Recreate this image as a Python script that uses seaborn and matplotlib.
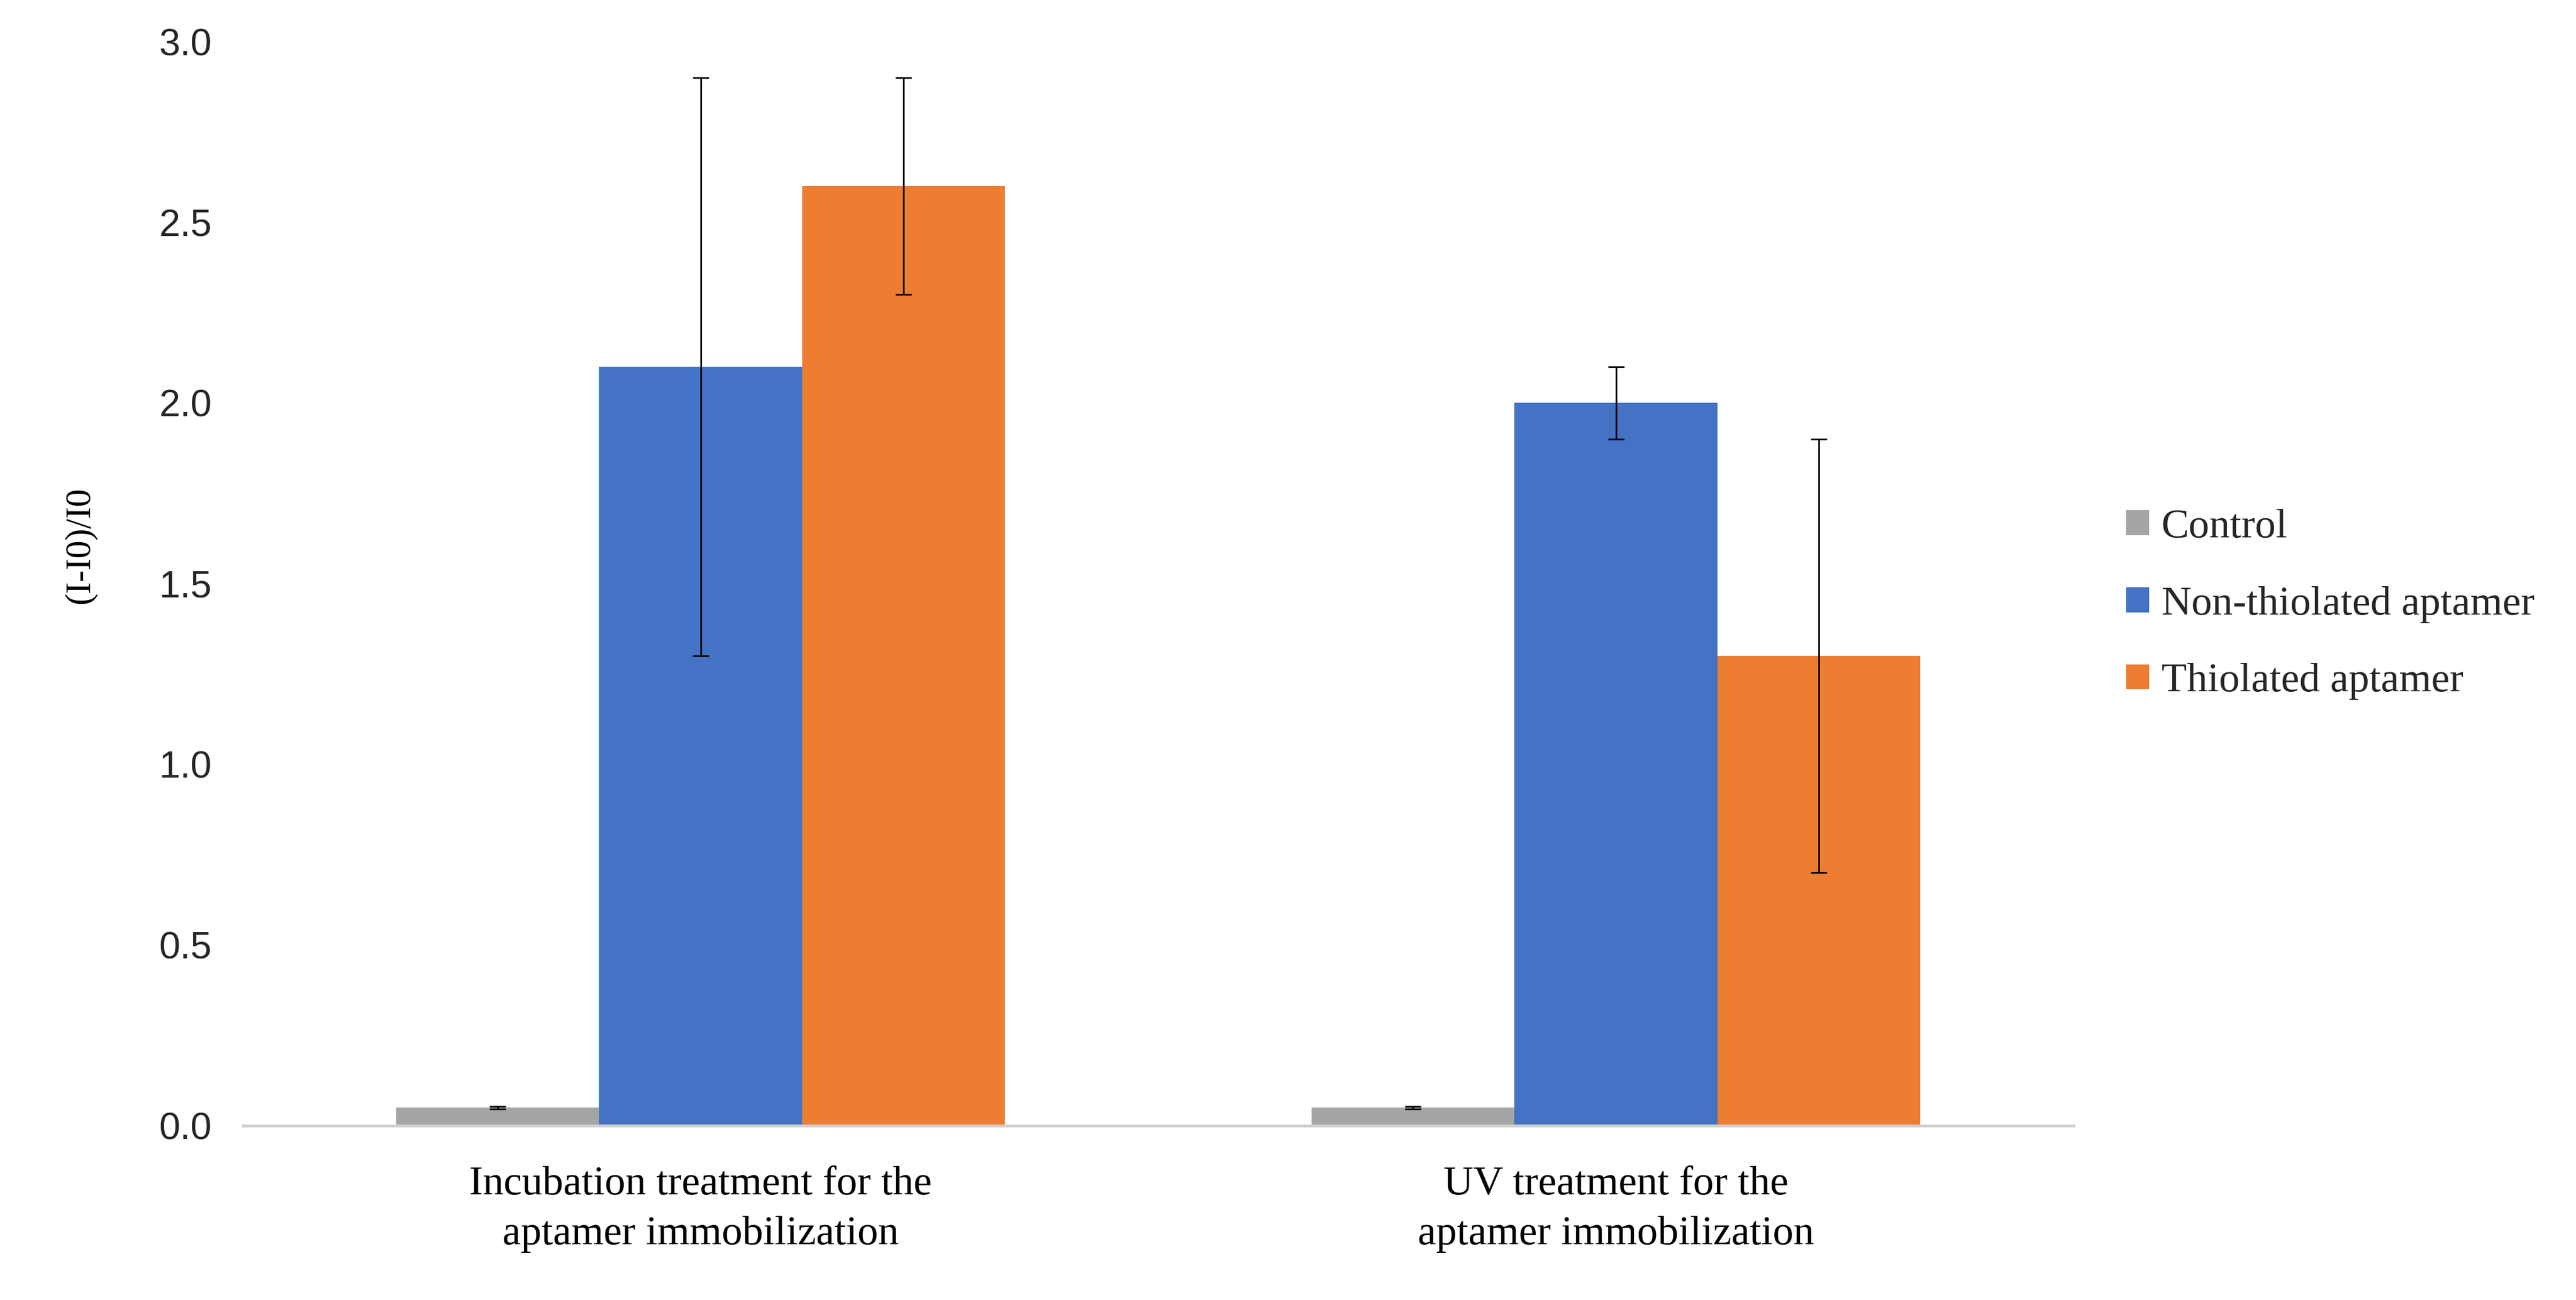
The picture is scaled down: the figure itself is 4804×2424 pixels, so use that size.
import pandas as pd
import matplotlib.pyplot as plt
import seaborn as sns

# --- data ---
treatments = ["Incubation treatment for the\naptamer immobilization",
              "UV treatment for the\naptamer immobilization"]
groups = ["Control", "Non-thiolated aptamer", "Thiolated aptamer"]
control = [0.05, 0.05]
non_thiolated = [2.1, 2.0]
thiolated = [2.6, 1.3]
control_err = [0.003, 0.003]
non_thiolated_err = [0.8, 0.1]
thiolated_err = [0.3, 0.6]

colors = ["#A5A5A5", "#4472C4", "#ED7D31"]

df = pd.DataFrame({
    "treatment": treatments * 3,
    "group": [g for g in groups for _ in treatments],
    "value": control + non_thiolated + thiolated,
})
errs = [control_err, non_thiolated_err, thiolated_err]

sns.set_style("white")
serif = ["Liberation Serif", "DejaVu Serif"]
sans = ["Liberation Sans", "DejaVu Sans"]

fig = plt.figure(figsize=(4804 / 300, 2424 / 300), dpi=300)
ax = fig.add_axes([0.0943, 0.134, 0.805 - 0.0943, 0.968 - 0.134])

sns.barplot(data=df, x="treatment", y="value", hue="group", hue_order=groups,
            palette=colors, errorbar=None, width=0.665, saturation=1,
            linewidth=0, ax=ax)

# error bars on each bar centre
for cont, err in zip(ax.containers, errs):
    xs = [b.get_x() + b.get_width() / 2 for b in cont]
    ys = [b.get_height() for b in cont]
    ax.errorbar(xs, ys, yerr=err, fmt="none", ecolor="black",
                elinewidth=0.75, capsize=3.6, capthick=0.75, zorder=5)

ax.set_xlim(-0.5, 1.5)
ax.set_ylim(0, 3.0)
ax.set_yticks([0.0, 0.5, 1.0, 1.5, 2.0, 2.5, 3.0])
ax.set_yticklabels([f"{v:.1f}" for v in ax.get_yticks()], family=sans,
                   fontsize=17, color="#262626")
ax.set_xticks(range(len(treatments)))
ax.set_xticklabels(treatments, family=serif, fontsize=18.5, color="black",
                   linespacing=1.45)
ax.tick_params(axis="y", length=0, pad=14)
ax.tick_params(axis="x", length=0, pad=18)

ax.set_xlabel("")
ax.set_ylabel("(I-I0)/I0", family=serif, fontsize=16, color="black")
ax.yaxis.set_label_coords(-0.08, 0.535)

for s in ["top", "right", "left"]:
    ax.spines[s].set_visible(False)
ax.spines["bottom"].set_color("#D0D0D0")
ax.spines["bottom"].set_linewidth(1.3)
ax.grid(False)

handles, labels = ax.get_legend_handles_labels()
ax.get_legend().remove()
fig.legend(handles, labels, loc="center left", bbox_to_anchor=(0.819, 0.535),
           frameon=False, prop={"family": serif, "size": 18.5},
           handlelength=0.55, handleheight=0.55, handletextpad=0.3,
           labelspacing=0.97, borderaxespad=0)

fig.savefig("out.png", dpi=300)
